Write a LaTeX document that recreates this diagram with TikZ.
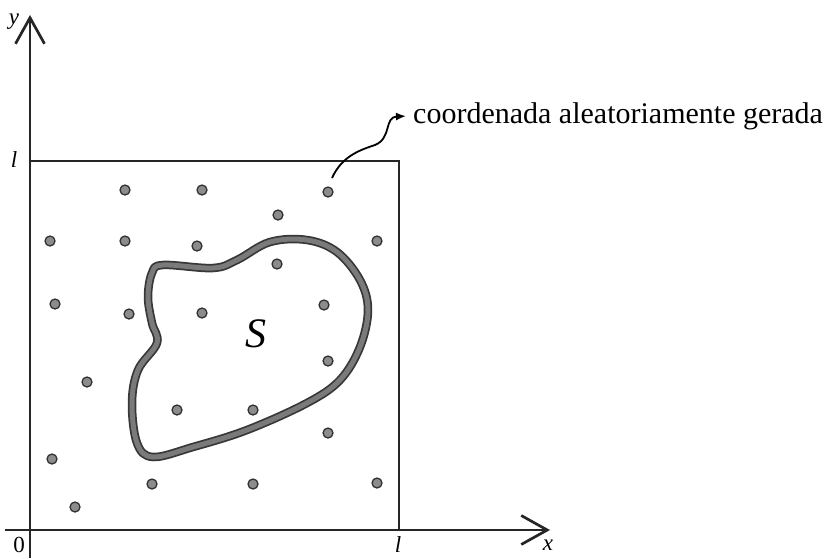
\documentclass[tikz,border=0pt]{standalone}
\usepackage{fontspec}
\setmainfont{Liberation Serif}
\usetikzlibrary{arrows.meta}
\begin{document}
\begin{tikzpicture}[x=1pt,y=-1pt,
  axis/.style={line width=2.7pt, black!85},
  bar/.style={-{Straight Barb[length=26pt,width=29pt,line width=2.7pt]}},
  dot/.style={circle, draw=black!80, fill=black!45, line width=1.3pt, inner sep=0pt, minimum size=10pt},
  lbl/.style={inner sep=0pt, font=\fontsize{23}{25}\selectfont},
  blobout/.style={line width=8.5pt, black!78, line join=round},
  blobin/.style={line width=5pt, black!52, line join=round},
  conn/.style={line width=1.8pt, black, -{Latex[length=10pt,width=8pt]}, shorten >=7pt}
]
\path[use as bounding box] (0,0) rectangle (827,558);
% axes
\coordinate (ybot) at (30,558);
\coordinate (ytop) at (30,15);
\coordinate (xleft) at (5,530);
\coordinate (xright) at (550,530);
\coordinate (tl) at (30,161);
\coordinate (tr) at (399,161);
\coordinate (br) at (399,530);
\draw[axis,bar] (ybot) -- (ytop);
\draw[axis,bar] (xleft) -- (xright);
\draw[axis] (tl) -- (tr) -- (br);
% labels
\node[lbl] (ylab) at (14,22) {\textit{y}};
\node[lbl] (xlab) at (548,545) {\textit{x}};
\node[lbl] (zero) at (19,545) {0};
\node[lbl] (lx) at (398,545) {\textit{l}};
\node[lbl] (ly) at (14,160) {\textit{l}};
% region S
\draw[blobout] plot[smooth cycle, tension=0.6] coordinates {
 (152,273) (163,265) (213,268) (237,260) (270,242) (307,240) (337,252) (360,280)
 (368,310) (360,347) (340,380) (307,403) (247,430) (193,447) (153,457) (137,443)
 (132,403) (138,370) (157,343) (152,323) (148,297)};
\draw[blobin] plot[smooth cycle, tension=0.6] coordinates {
 (152,273) (163,265) (213,268) (237,260) (270,242) (307,240) (337,252) (360,280)
 (368,310) (360,347) (340,380) (307,403) (247,430) (193,447) (153,457) (137,443)
 (132,403) (138,370) (157,343) (152,323) (148,297)};
\node[inner sep=0pt, font=\fontsize{42}{44}\selectfont] (S) at (256,334) {\textit{S}};
% dots
\foreach \i/\x/\y in {1/125/190, 2/202/190, 3/328/192, 4/278/215, 5/50/241, 6/125/241,
  7/197/246, 8/377/241, 9/277/264, 10/55/304, 11/129/314, 12/202/313, 13/324/305,
  14/328/361, 15/87/382, 16/177/410, 17/253/410, 18/328/433, 19/52/459, 20/152/484,
  21/253/484, 22/377/483, 23/75/507}
  \node[dot] (d\i) at (\x,\y) {};
% annotation
\node[inner sep=0pt, anchor=base west, font=\fontsize{30}{32}\selectfont] (lab) at (413,123) {coordenada aleatoriamente gerada};
\coordinate (c0) at (332,178);
\draw[conn] (c0) .. controls (342,156) and (360,150) .. (375,145)
  .. controls (392,138) and (384,117) .. (lab.west);
\end{tikzpicture}
\end{document}
